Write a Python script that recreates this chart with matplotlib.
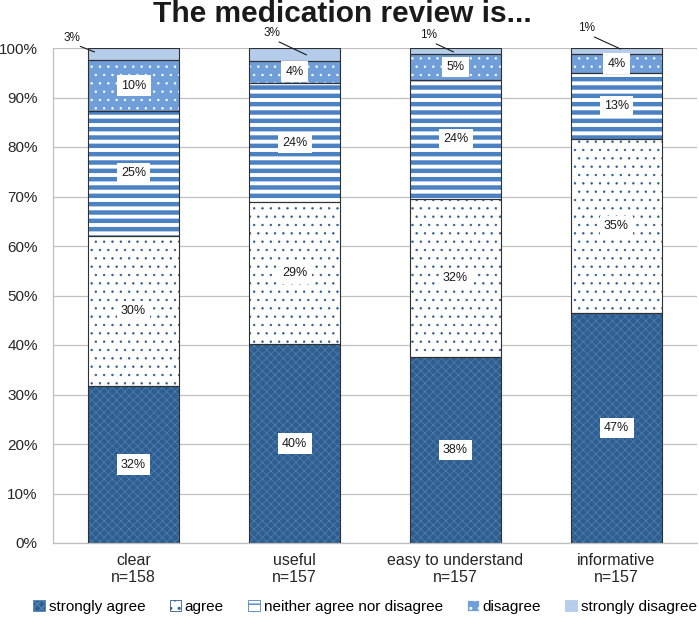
import matplotlib
matplotlib.use('Agg')
import matplotlib.pyplot as plt
from matplotlib.patches import Patch
import numpy as np

plt.rcParams['font.family'] = ['Liberation Sans', 'DejaVu Sans']

# ---------------- data ----------------
categories = ['clear\nn=158', 'useful\nn=157', 'easy to understand\nn=157', 'informative\nn=157']
series_names = ['strongly agree', 'agree', 'neither agree nor disagree', 'disagree', 'strongly disagree']
strongly_agree = [31.65, 40.13, 37.58, 46.50]
agree = [30.38, 28.66, 31.85, 35.03]
neither = [25.32, 24.20, 24.20, 13.38]
disagree = [10.13, 4.46, 5.10, 3.82]
strongly_disagree = [2.53, 2.55, 1.27, 1.27]
yticks = [0, 10, 20, 30, 40, 50, 60, 70, 80, 90, 100]
title = 'The medication review is...'

series = [strongly_agree, agree, neither, disagree, strongly_disagree]

# ---------------- styles ----------------
styles = [
    dict(face='#2d5e8f', hatch='xxxx', hcolor='#5381b2', hlw=0.5),
    dict(face='#ffffff', hatch='..', hcolor='#2d5e8f', hlw=0.5),
    dict(face='#ffffff', hatch='--', hcolor='#4a82c4', hlw=3.2),
    dict(face='#6f9ed8', hatch='..', hcolor='#ffffff', hlw=0.5),
    dict(face='#b5cdeb', hatch=None, hcolor='#b5cdeb', hlw=0.5),
]
# outside labels of the top segment: (text dx, text y, line-end dx, line-end y)
top_label_pos = [(-0.385, 102.1, -0.242, 99.2),
                 (-0.143, 103.0, 0.075, 98.6),
                 (-0.168, 102.6, -0.012, 99.2),
                 (-0.186, 104.0, 0.025, 99.8)]

W, H = 699, 625
fig = plt.figure(figsize=(W / 100, H / 100), dpi=100)
ax = fig.add_axes([53 / W, 82 / H, 644 / W, 495 / H])

x = np.arange(len(categories))
width = 0.57
bottom = np.zeros(len(categories))


def set_hlw(p, lw):
    if hasattr(p, 'set_hatch_linewidth'):
        p.set_hatch_linewidth(lw)


for si, (vals, st) in enumerate(zip(series, styles)):
    vals = np.array(vals)
    bars = ax.bar(x, vals, width, bottom=bottom, color=st['face'], edgecolor=st['hcolor'],
                  linewidth=0, hatch=st['hatch'], zorder=2)
    for b in bars:
        set_hlw(b, st['hlw'])
    ax.bar(x, vals, width, bottom=bottom, fill=False, edgecolor='#303030', linewidth=0.8, zorder=3)
    for i, v in enumerate(vals):
        txt = f"{int(np.floor(v + 0.5))}%"
        if si < 4:
            ax.text(x[i], bottom[i] + v / 2, txt, ha='center', va='center', fontsize=9,
                    color='#1a1a1a', zorder=5,
                    bbox=dict(boxstyle='square,pad=0.35', facecolor='white', edgecolor='none'))
        else:
            tdx, ty, edx, ey = top_label_pos[i]
            ax.annotate(txt, xy=(x[i] + edx, ey), xytext=(x[i] + tdx, ty),
                        ha='center', va='center', fontsize=8.5, color='#1a1a1a',
                        annotation_clip=False, zorder=6,
                        arrowprops=dict(arrowstyle='-', color='#1a1a1a', lw=0.8,
                                        shrinkA=0, shrinkB=0, relpos=(0.6, 0.0)))
    bottom = bottom + vals

ax.set_xlim(-0.5, len(categories) - 0.5)
ax.set_ylim(0, 100)
ax.set_yticks(yticks)
ax.set_yticklabels([f"{t}%" for t in yticks])
ax.set_xticks(x)
ax.set_xticklabels(categories)
ax.tick_params(axis='y', length=0, pad=11, labelsize=11, labelcolor='#262626')
ax.tick_params(axis='x', length=0, pad=7, labelsize=11.5, labelcolor='#262626')
ax.yaxis.grid(True, color='#c0c0c0', linewidth=0.9)
ax.set_axisbelow(True)
for s in ['top', 'right']:
    ax.spines[s].set_visible(False)
for s in ['left', 'bottom']:
    ax.spines[s].set_color('#bfbfbf')
    ax.spines[s].set_linewidth(0.9)

fig.text(342 / W, 1 - 22 / H, title, ha='center', va='baseline', fontsize=21.5,
         fontweight='bold', color='#1a1a1a')

handles = []
for st in styles:
    p = Patch(facecolor=st['face'], edgecolor=st['hcolor'], hatch=st['hatch'], linewidth=0.6)
    set_hlw(p, min(st['hlw'], 1.5))
    handles.append(p)
fig.legend(handles, series_names, loc='center', bbox_to_anchor=(365 / W, 1 - 607 / H), ncol=5,
           frameon=False, fontsize=11, handlelength=0.75, handleheight=0.75, handletextpad=0.25,
           columnspacing=1.6, borderaxespad=0)

fig.savefig('out.png', dpi=100)
